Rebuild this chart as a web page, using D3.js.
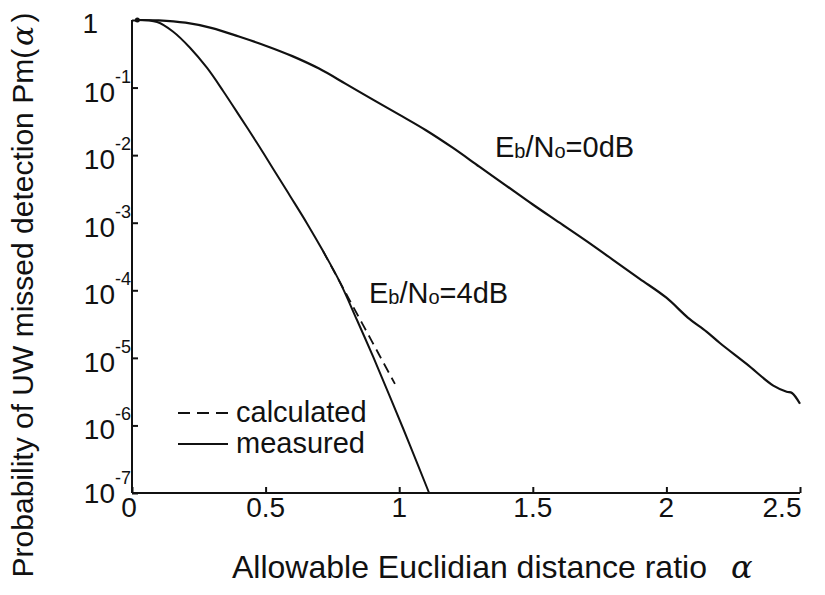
<!DOCTYPE html>
<html>
<head>
<meta charset="utf-8">
<script src="https://cdn.jsdelivr.net/npm/d3@7"></script>
<style>
  html, body { margin: 0; padding: 0; background: #fff; }
  svg { display: block; }
  text { font-family: Arial, "Liberation Sans", Helvetica, sans-serif; fill: #111; }
</style>
</head>
<body>
<svg id="chart" width="825" height="595"></svg>
<script>
// ---- data ----
const xTicks = [0, 0.5, 1, 1.5, 2, 2.5];
const xTickLabels = ["0", "0.5", "1", "1.5", "2", "2.5"];
const yTicks = [1, 1e-1, 1e-2, 1e-3, 1e-4, 1e-5, 1e-6, 1e-7];
const yTickExponents = ["", "-1", "-2", "-3", "-4", "-5", "-6", "-7"];

// Eb/No = 0 dB, measured
const alpha0dB = [0.02, 0.1, 0.2, 0.3, 0.4, 0.5, 0.6, 0.7, 0.8, 0.9, 1.0, 1.1, 1.2, 1.3, 1.4, 1.5, 1.6, 1.7, 1.8, 1.9, 2.0, 2.08, 2.15, 2.2, 2.3, 2.4, 2.45, 2.47, 2.5];
const pm0dB = [1, 0.989, 0.912, 0.759, 0.569, 0.417, 0.292, 0.191, 0.1135, 0.0668, 0.0398, 0.0234, 0.0129, 6.76e-3, 3.55e-3, 1.86e-3, 1.0e-3, 5.37e-4, 2.82e-4, 1.48e-4, 7.76e-5, 3.95e-5, 2.45e-5, 1.66e-5, 8.13e-6, 3.89e-6, 3.16e-6, 3.02e-6, 2.09e-6];

// Eb/No = 4 dB, measured
const alpha4dB = [0.02, 0.094, 0.153, 0.217, 0.281, 0.341, 0.404, 0.468, 0.528, 0.591, 0.655, 0.715, 0.778, 0.842, 0.902, 0.966, 1.04, 1.112];
const pm4dB = [1, 0.933, 0.676, 0.389, 0.195, 0.0891, 0.0372, 0.0151, 6.31e-3, 2.51e-3, 9.77e-4, 3.8e-4, 1.32e-4, 3.63e-5, 1.05e-5, 2.63e-6, 5.13e-7, 1e-7];

// Eb/No = 4 dB, calculated
const alpha4dBCalc = [0.715, 0.778, 0.83, 0.88, 0.93, 0.984];
const pm4dBCalc = [3.8e-4, 1.32e-4, 5.5e-5, 2.37e-5, 1.02e-5, 4.12e-6];

// ---- chart ----
const svg = d3.select("#chart");
const x = d3.scaleLinear().domain([0, 2.5]).range([132, 800]);
const y = d3.scaleLog().domain([1, 1e-7]).range([20, 493]);

const line = d3.line()
  .x(d => x(d[0]))
  .y(d => y(d[1]))
  .curve(d3.curveCatmullRom.alpha(0.5));

const zip = (a, b) => a.map((v, i) => [v, b[i]]);

// curves
svg.append("path").datum(zip(alpha0dB, pm0dB))
  .attr("d", line).attr("fill", "none").attr("stroke", "#111").attr("stroke-width", 2.2);
svg.append("path").datum(zip(alpha4dB, pm4dB))
  .attr("d", line).attr("fill", "none").attr("stroke", "#111").attr("stroke-width", 2);
svg.append("path").datum(zip(alpha4dBCalc, pm4dBCalc))
  .attr("d", line).attr("fill", "none").attr("stroke", "#111").attr("stroke-width", 1.8)
  .attr("stroke-dasharray", "10,6");
// start dot
svg.append("circle").attr("cx", x(alpha0dB[0])).attr("cy", y(pm0dB[0])).attr("r", 2.5).attr("fill", "#111");

// axes
const xAxis = d3.axisBottom(x).tickValues(xTicks).tickSize(-6).tickFormat("");
const gx = svg.append("g").attr("transform", `translate(0,${y(1e-7)})`).call(xAxis);
gx.select(".domain").attr("d", `M${x(0)},0H${x(2.5)}`).attr("stroke", "#111").attr("stroke-width", 2);
gx.selectAll(".tick line").attr("stroke", "#111").attr("stroke-width", 2);

const yAxis = d3.axisLeft(y).tickValues(yTicks).tickSize(-6).tickFormat("");
const gy = svg.append("g").attr("transform", `translate(${x(0)},0)`).call(yAxis);
gy.select(".domain").attr("d", `M0,${y(1)}V${y(1e-7)}`).attr("stroke", "#111").attr("stroke-width", 2);
gy.selectAll(".tick line").attr("stroke", "#111").attr("stroke-width", 2);

// x tick labels
svg.append("g").selectAll("text").data(xTicks).join("text")
  .attr("x", (d, i) => x(d) + (i === 0 ? -3 : (i === xTicks.length - 1 ? -18 : 0)))
  .attr("y", 517)
  .attr("text-anchor", "middle")
  .attr("font-size", 28)
  .text((d, i) => xTickLabels[i]);

// y tick labels
const yl = svg.append("g");
yTicks.forEach((v, i) => {
  const t = yl.append("text").attr("font-size", 28);
  if (i === 0) {
    t.attr("x", 98).attr("y", y(v) + 13).attr("text-anchor", "end").text("1");
  } else {
    t.attr("x", 131).attr("y", y(v) + (i === yTicks.length - 1 ? 10 : 14)).attr("text-anchor", "end");
    t.append("tspan").text("10");
    t.append("tspan").attr("font-size", 18).attr("dy", -19).text(yTickExponents[i]);
  }
});

// axis titles
const xt = svg.append("text").attr("x", 232).attr("y", 578).attr("font-size", 32);
xt.append("tspan").text("Allowable Euclidian distance ratio");
xt.append("tspan").attr("dx", 24).attr("font-style", "italic").attr("font-family", "'DejaVu Serif', serif").text("α");

const yt = svg.append("text").attr("transform", "translate(33,295) rotate(-90)")
  .attr("text-anchor", "middle").attr("font-size", 30);
yt.append("tspan").text("Probability of UW missed detection Pm(");
yt.append("tspan").attr("dx", 3).attr("font-style", "italic").attr("font-family", "'DejaVu Serif', serif").text("α");
yt.append("tspan").attr("dx", 3).text(")");

// curve labels
function ebLabel(xp, yp, val) {
  const t = svg.append("text").attr("x", xp).attr("y", yp).attr("font-size", 29);
  t.append("tspan").text("E");
  t.append("tspan").attr("font-size", 20).attr("dy", 1).text("b");
  t.append("tspan").attr("dy", -1).text("/N");
  t.append("tspan").attr("font-size", 20).attr("dy", 1).text("o");
  t.append("tspan").attr("dy", -1).text("=" + val);
}
ebLabel(495, 157, "0dB");
ebLabel(369, 303, "4dB");

// legend
svg.append("line").attr("x1", 178).attr("x2", 228).attr("y1", 413).attr("y2", 413)
  .attr("stroke", "#111").attr("stroke-width", 1.8).attr("stroke-dasharray", "12,7");
svg.append("line").attr("x1", 178).attr("x2", 228).attr("y1", 444).attr("y2", 444)
  .attr("stroke", "#111").attr("stroke-width", 1.8);
svg.append("text").attr("x", 236).attr("y", 422).attr("font-size", 29).text("calculated");
svg.append("text").attr("x", 236).attr("y", 453).attr("font-size", 29).text("measured");
</script>
</body>
</html>
